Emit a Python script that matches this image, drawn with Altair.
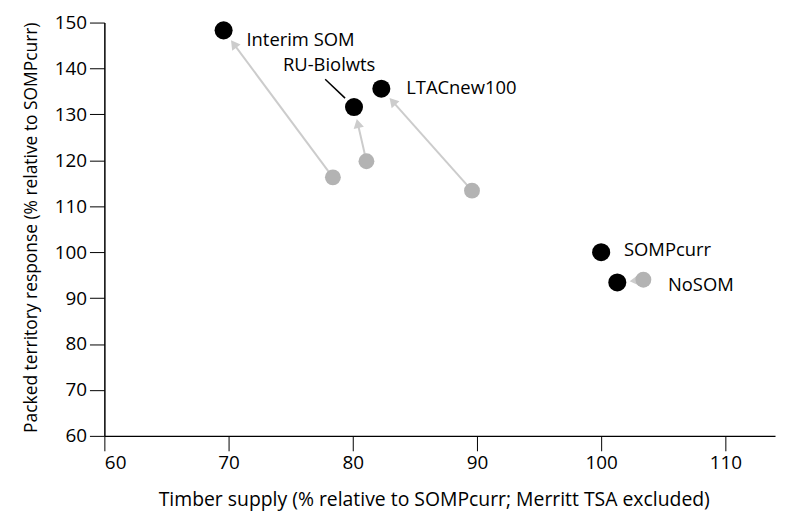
import math
import altair as alt
import pandas as pd

# ---- data ----
scenarios = ["Interim SOM", "RU-Biolwts", "LTACnew100", "SOMPcurr", "NoSOM"]
new_timber = [69.6, 80.1, 82.3, 100.0, 101.3]
new_packed = [148.3, 131.6, 135.6, 100.0, 93.4]
old_timber = [78.4, 81.1, 89.6, None, 103.4]
old_packed = [116.3, 119.8, 113.4, None, 94.0]

x_ticks = [60, 70, 80, 90, 100, 110]
y_ticks = [60, 70, 80, 90, 100, 110, 120, 130, 140, 150]

X_DOMAIN = [60, 114]
Y_DOMAIN = [60, 150]
W, H = 675, 416
FONT = "Open Sans"

sx = W / (X_DOMAIN[1] - X_DOMAIN[0])
sy = H / (Y_DOMAIN[1] - Y_DOMAIN[0])

new_df = pd.DataFrame({"scenario": scenarios, "x": new_timber, "y": new_packed})

rows = []
for s, nx, ny, ox, oy in zip(scenarios, new_timber, new_packed, old_timber, old_packed):
    if ox is None:
        continue
    dxp = (nx - ox) * sx
    dyp = -(ny - oy) * sy
    L = math.hypot(dxp, dyp)
    ux, uy = dxp / L, dyp / L
    back = 17.0
    ax = nx - ux * back / sx
    ay = ny + uy * back / sy
    ang = math.degrees(math.atan2(dxp, -dyp)) % 360
    rows.append({"scenario": s, "ox": ox, "oy": oy, "ax": ax, "ay": ay, "angle": ang})
arr_df = pd.DataFrame(rows)
old_df = arr_df[["scenario", "ox", "oy"]]

xs = alt.Scale(domain=X_DOMAIN, nice=False, zero=False)
ys = alt.Scale(domain=Y_DOMAIN, nice=False, zero=False)

x_axis = alt.Axis(values=x_ticks, title="Timber supply (% relative to SOMPcurr; Merritt TSA excluded)",
                  titlePadding=18, titleFontSize=19.5, titleX=W / 2 - 6)
y_axis = alt.Axis(values=y_ticks, title="Packed territory response (% relative to SOMPcurr)",
                  titlePadding=14, titleFontSize=17.5, titleY=H / 2 - 2)

base_x = alt.X("ox:Q", scale=xs, axis=x_axis)
base_y = alt.Y("oy:Q", scale=ys, axis=y_axis)

arrow_lines = alt.Chart(arr_df).mark_rule(color="#cccccc", strokeWidth=2).encode(
    x=base_x, y=base_y, x2="ax:Q", y2="ay:Q"
)
arrow_heads = alt.Chart(arr_df).mark_point(
    shape="triangle-up", filled=True, color="#cccccc", size=110, opacity=1
).encode(
    x=alt.X("ax:Q", scale=xs), y=alt.Y("ay:Q", scale=ys), angle=alt.Angle("angle:Q", scale=None)
)
old_pts = alt.Chart(old_df).mark_circle(color="#b3b3b3", size=255, opacity=1).encode(
    x=alt.X("ox:Q", scale=xs), y=alt.Y("oy:Q", scale=ys)
)
new_pts = alt.Chart(new_df).mark_circle(color="black", size=330, opacity=1).encode(
    x=alt.X("x:Q", scale=xs), y=alt.Y("y:Q", scale=ys)
)

def label(name, dx, dy, align="left"):
    return alt.Chart(new_df[new_df.scenario == name]).mark_text(
        align=align, baseline="middle", dx=dx, dy=dy, font=FONT, fontSize=18.5, color="black"
    ).encode(x=alt.X("x:Q", scale=xs), y=alt.Y("y:Q", scale=ys), text="scenario:N")

labels = [
    label("Interim SOM", 23, 10),
    label("LTACnew100", 25, -1),
    label("SOMPcurr", 23, -2),
    label("NoSOM", 51, 3),
    label("RU-Biolwts", -25, -42, align="center"),
]

# leader line for RU-Biolwts label
ru = new_df[new_df.scenario == "RU-Biolwts"].copy()
ru["lx1"] = ru["x"] - 29 / sx
ru["ly1"] = ru["y"] + 28 / sy
ru["lx2"] = ru["x"] - 9 / sx
ru["ly2"] = ru["y"] + 9 / sy
leader = alt.Chart(ru).mark_rule(color="black", strokeWidth=1.5).encode(
    x=alt.X("lx1:Q", scale=xs), y=alt.Y("ly1:Q", scale=ys), x2="lx2:Q", y2="ly2:Q"
)

chart = alt.layer(
    arrow_lines, arrow_heads, old_pts, leader, new_pts, *labels
).properties(
    width=W, height=H,
    autosize=alt.AutoSizeParams(type="none"),
    padding={"left": 97, "top": 13, "right": 4, "bottom": 80},
    background="white",
).configure_view(stroke=None).configure_axis(
    grid=False,
    domainColor="black", domainWidth=1.5,
    tickColor="black", tickWidth=1, tickSize=15,
    labelFont=FONT, labelFontSize=19, labelColor="black", labelPadding=3,
    titleFont=FONT, titleFontWeight="normal", titleColor="black",
)

chart.save("out.html", embed_options={"renderer": "svg", "actions": False})
